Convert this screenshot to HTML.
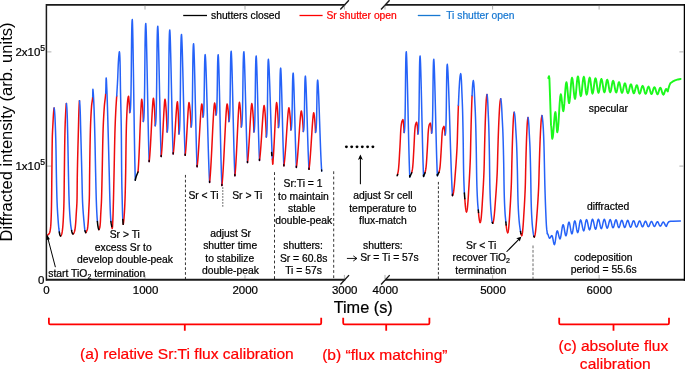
<!DOCTYPE html>
<html><head><meta charset="utf-8"><title>RHEED flux calibration</title>
<style>html,body{margin:0;padding:0;background:#fff;}svg{display:block;will-change:transform;}text{font-family:"Liberation Sans",sans-serif;}</style></head>
<body>
<svg width="685" height="370" viewBox="0 0 685 370">
<rect width="685" height="370" fill="#fff"/>
<g stroke="#1a1a1a" fill="none" stroke-linecap="butt">
<path d="M46.4 3.9999999999999996V280.65" stroke-width="1.5"/>
<path d="M46.4 279.75H345.2M385 279.75H685" stroke-width="1.9"/>
<path d="M46.4 4.85H345.2M385 4.85H685" stroke-width="1.7"/>
<path d="M684.4 3.9999999999999996V280.65" stroke-width="1.3" stroke="#000"/>
<path d="M340.3 9.5L348.9 0.2M381 9.5L389.6 0.2M340.4 284.5L349 275.1M381.1 284.5L389.7 275.1" stroke-width="1.4"/>
</g>
<g stroke="#777" stroke-width="0.6" fill="none">
<path d="M145.0 279.15v-4.2M145.0 5.35v4.2"/>
<path d="M245.0 279.15v-4.2M245.0 5.35v4.2"/>
<path d="M344.4 279.15v-4.2M344.4 5.35v4.2"/>
<path d="M385.0 279.15v-4.2M385.0 5.35v4.2"/>
<path d="M492.6 279.15v-4.2M492.6 5.35v4.2"/>
<path d="M599.1 279.15v-4.2M599.1 5.35v4.2"/>
<path d="M47.0 51.9h4.4M683.4 51.9h-4"/>
<path d="M47.0 166.1h4.4M683.4 166.1h-4"/>
</g>
<g stroke="#000" stroke-width="0.8" fill="none">
<path d="M185.45 174.9V279" stroke-dasharray="2.7 2.16"/>
<path d="M274.5 172.2V279M333.7 171.3V279" stroke-dasharray="2.8 2.4"/>
<path d="M438.4 181.9V279" stroke-dasharray="2.6 1.9"/>
<path d="M222.8 187.2V206.7" stroke="#333" stroke-dasharray="1.7 1.27"/>
<path d="M533.0 245.5V279" stroke="#6a6a6a" stroke-width="1.0" stroke-dasharray="2.8 1.66"/>
</g>
<path d="M47.60 235.00L48.14 234.68L48.60 234.30L49.25 233.46L49.70 232.50L50.12 230.72L50.43 228.84L50.65 226.91L50.80 225.00L50.91 223.19L51.00 221.38L51.09 219.56L51.16 217.74L51.23 215.93L51.29 214.10L51.34 212.28L51.39 210.46L51.43 208.64L51.47 206.82L51.50 205.00L51.53 203.06L51.56 201.11L51.59 199.17L51.62 197.22L51.64 195.28L51.67 193.33L51.69 191.39L51.71 189.45L51.73 187.50L51.75 185.56L51.76 183.61L51.78 181.67L51.80 179.72L51.82 177.78L51.84 175.83L51.86 173.89L51.88 171.94L51.90 170.00L51.92 168.12L51.94 166.24L51.96 164.35L51.98 162.47L52.00 160.59L52.02 158.70L52.04 156.82L52.05 154.94L52.07 153.06L52.09 151.17L52.12 149.29L52.14 147.41L52.17 145.53L52.20 143.65L52.23 141.76L52.26 139.88L52.30 138.00L52.35 136.07L52.42 134.15L52.50 132.22L52.59 130.30L52.69 128.37L52.79 126.45L52.90 124.52L53.00 122.60L53.10 120.68L53.20 118.76L53.30 116.84L53.41 114.93L53.55 113.01L53.70 111.10L53.88 109.10L54.10 107.90" stroke="#ee0c0c" stroke-width="1.5" fill="none" stroke-linejoin="round" stroke-linecap="round"/>
<path d="M54.10 107.90L54.37 109.29L54.60 111.60L54.74 113.51L54.87 115.42L54.97 117.33L55.07 119.25L55.15 121.17L55.23 123.08L55.30 125.00L55.37 126.82L55.43 128.64L55.50 130.45L55.56 132.27L55.61 134.09L55.67 135.91L55.72 137.73L55.77 139.54L55.82 141.36L55.86 143.18L55.90 145.00L55.94 146.87L55.98 148.75L56.01 150.62L56.04 152.50L56.07 154.37L56.10 156.25L56.13 158.12L56.16 160.00L56.19 161.87L56.21 163.75L56.24 165.63L56.27 167.50L56.30 169.38L56.33 171.25L56.36 173.13L56.40 175.00L56.44 176.92L56.48 178.85L56.51 180.77L56.55 182.69L56.59 184.62L56.63 186.54L56.68 188.46L56.72 190.39L56.77 192.31L56.82 194.23L56.88 196.16L56.94 198.08L57.00 200.00L57.07 201.92L57.15 203.85L57.23 205.77L57.33 207.70L57.43 209.62L57.54 211.55L57.65 213.47L57.78 215.40L57.91 217.32L58.05 219.24L58.19 221.16L58.34 223.08L58.50 225.00L58.66 226.73L58.84 228.46L59.06 230.18L59.30 231.90" stroke="#2562f8" stroke-width="1.5" fill="none" stroke-linejoin="round" stroke-linecap="round"/>
<path d="M60.60 236.00L61.04 235.64L61.40 235.00L61.96 233.16L62.30 231.20L62.51 229.48L62.70 227.74L62.85 226.00L62.99 224.25L63.10 222.50L63.21 220.75L63.30 219.00L63.40 217.10L63.49 215.20L63.57 213.30L63.65 211.40L63.73 209.50L63.80 207.60L63.86 205.70L63.91 203.80L63.96 201.90L64.00 200.00L64.03 198.15L64.06 196.31L64.09 194.46L64.11 192.62L64.14 190.77L64.16 188.92L64.18 187.08L64.20 185.23L64.21 183.39L64.23 181.54L64.25 179.69L64.28 177.85L64.30 176.00L64.33 174.08L64.35 172.17L64.37 170.25L64.40 168.33L64.42 166.42L64.45 164.50L64.47 162.58L64.49 160.67L64.52 158.75L64.54 156.83L64.57 154.91L64.59 153.00L64.62 151.08L64.65 149.16L64.67 147.25L64.70 145.33L64.73 143.41L64.77 141.50L64.80 139.58L64.84 137.66L64.87 135.75L64.91 133.83L64.96 131.92L65.00 130.00L65.05 128.06L65.11 126.12L65.17 124.18L65.24 122.24L65.32 120.30L65.40 118.36L65.49 116.42L65.59 114.48L65.69 112.54L65.80 110.60L65.92 108.49L66.07 106.16L66.23 104.28L66.40 103.50" stroke="#ee0c0c" stroke-width="1.5" fill="none" stroke-linejoin="round" stroke-linecap="round"/>
<path d="M66.40 103.50L66.58 104.44L66.76 106.52L66.90 108.60L67.00 110.54L67.09 112.48L67.17 114.43L67.24 116.37L67.30 118.32L67.36 120.27L67.41 122.21L67.46 124.16L67.50 126.11L67.55 128.05L67.60 130.00L67.65 131.92L67.69 133.83L67.74 135.75L67.78 137.67L67.82 139.58L67.86 141.50L67.89 143.42L67.93 145.33L67.97 147.25L68.00 149.17L68.03 151.08L68.07 153.00L68.10 154.92L68.13 156.83L68.17 158.75L68.20 160.67L68.24 162.58L68.27 164.50L68.31 166.42L68.34 168.33L68.38 170.25L68.42 172.17L68.46 174.08L68.50 176.00L68.54 177.85L68.58 179.69L68.62 181.54L68.66 183.39L68.70 185.23L68.74 187.08L68.78 188.93L68.83 190.77L68.87 192.62L68.92 194.46L68.98 196.31L69.04 198.16L69.10 200.00L69.17 201.85L69.24 203.70L69.32 205.55L69.41 207.40L69.51 209.25L69.61 211.10L69.72 212.94L69.84 214.79L69.97 216.64L70.11 218.48L70.27 220.32L70.43 222.16L70.60 224.00L70.78 225.61L71.02 227.21L71.29 228.81L71.60 230.40" stroke="#2562f8" stroke-width="1.5" fill="none" stroke-linejoin="round" stroke-linecap="round"/>
<path d="M73.10 234.00L73.60 233.56L74.00 232.80L74.55 231.44L74.90 230.00L75.16 228.15L75.38 226.29L75.56 224.41L75.71 222.51L75.85 220.61L75.96 218.70L76.07 216.80L76.18 214.90L76.30 213.00L76.42 211.14L76.54 209.29L76.66 207.43L76.77 205.57L76.87 203.72L76.95 201.86L77.00 200.00L77.04 198.16L77.07 196.31L77.10 194.46L77.12 192.62L77.14 190.77L77.16 188.93L77.18 187.08L77.19 185.23L77.21 183.39L77.23 181.54L77.25 179.69L77.27 177.85L77.30 176.00L77.33 174.08L77.37 172.17L77.40 170.25L77.44 168.33L77.48 166.42L77.52 164.50L77.56 162.58L77.60 160.67L77.65 158.75L77.70 156.83L77.74 154.92L77.79 153.00L77.84 151.08L77.89 149.17L77.94 147.25L77.99 145.33L78.04 143.42L78.09 141.50L78.15 139.58L78.20 137.67L78.25 135.75L78.30 133.83L78.35 131.92L78.40 130.00L78.45 128.05L78.50 126.11L78.54 124.16L78.59 122.22L78.64 120.27L78.68 118.32L78.74 116.38L78.79 114.43L78.86 112.49L78.92 110.54L79.00 108.60L79.10 106.25L79.22 103.66L79.36 101.56L79.50 100.70" stroke="#ee0c0c" stroke-width="1.5" fill="none" stroke-linejoin="round" stroke-linecap="round"/>
<path d="M79.50 100.70L79.67 101.79L79.86 104.20L80.00 106.60L80.09 108.55L80.17 110.49L80.24 112.44L80.30 114.39L80.36 116.34L80.41 118.29L80.46 120.25L80.51 122.20L80.55 124.15L80.60 126.10L80.65 128.05L80.70 130.00L80.75 131.92L80.81 133.83L80.86 135.75L80.91 137.67L80.96 139.58L81.01 141.50L81.07 143.42L81.12 145.33L81.17 147.25L81.22 149.17L81.27 151.08L81.31 153.00L81.36 154.92L81.41 156.83L81.46 158.75L81.51 160.67L81.56 162.58L81.61 164.50L81.66 166.42L81.71 168.33L81.75 170.25L81.80 172.17L81.85 174.08L81.90 176.00L81.95 177.85L81.99 179.69L82.03 181.54L82.07 183.39L82.11 185.23L82.15 187.08L82.19 188.93L82.23 190.77L82.27 192.62L82.32 194.47L82.38 196.31L82.44 198.16L82.50 200.00L82.57 201.85L82.66 203.70L82.76 205.54L82.87 207.39L82.99 209.24L83.12 211.09L83.25 212.93L83.40 214.78L83.55 216.63L83.70 218.47L83.86 220.32L84.03 222.16L84.20 224.00L84.35 225.72L84.51 227.44L84.71 229.15L85.00 230.80" stroke="#2562f8" stroke-width="1.5" fill="none" stroke-linejoin="round" stroke-linecap="round"/>
<path d="M85.80 232.60L86.21 232.12L86.60 231.30L87.14 230.02L87.50 228.70L87.74 226.88L87.93 225.04L88.10 223.18L88.24 221.31L88.35 219.43L88.45 217.54L88.54 215.65L88.63 213.76L88.71 211.88L88.80 210.00L88.89 208.13L88.99 206.25L89.08 204.38L89.16 202.50L89.24 200.63L89.31 198.75L89.36 196.88L89.40 195.00L89.43 193.10L89.45 191.20L89.48 189.30L89.49 187.40L89.51 185.50L89.53 183.60L89.54 181.70L89.56 179.80L89.58 177.90L89.60 176.00L89.62 174.08L89.65 172.17L89.67 170.25L89.70 168.33L89.72 166.42L89.75 164.50L89.77 162.58L89.80 160.66L89.83 158.75L89.86 156.83L89.89 154.91L89.92 153.00L89.95 151.08L89.98 149.16L90.02 147.25L90.05 145.33L90.09 143.41L90.13 141.50L90.17 139.58L90.21 137.66L90.25 135.75L90.30 133.83L90.35 131.92L90.40 130.00L90.45 128.12L90.51 126.24L90.58 124.36L90.65 122.48L90.72 120.61L90.81 118.73L90.90 116.85L91.00 114.97L91.10 113.09L91.21 111.22L91.33 109.34L91.46 107.47L91.60 105.60L91.79 103.84L92.05 102.08L92.32 100.32L92.56 98.56L92.70 96.80" stroke="#ee0c0c" stroke-width="1.5" fill="none" stroke-linejoin="round" stroke-linecap="round"/>
<path d="M92.70 96.80L92.76 94.55L92.80 92.05L92.84 90.03L92.90 89.20L93.02 90.01L93.19 91.97L93.36 94.40L93.50 96.60L93.60 98.56L93.70 100.52L93.79 102.49L93.88 104.45L93.96 106.42L94.04 108.38L94.11 110.34L94.18 112.31L94.24 114.28L94.31 116.24L94.37 118.21L94.43 120.17L94.48 122.14L94.54 124.10L94.59 126.07L94.65 128.03L94.70 130.00L94.75 131.92L94.80 133.83L94.85 135.75L94.90 137.67L94.94 139.58L94.98 141.50L95.03 143.42L95.07 145.33L95.11 147.25L95.15 149.17L95.18 151.08L95.22 153.00L95.26 154.92L95.30 156.83L95.34 158.75L95.37 160.67L95.41 162.58L95.45 164.50L95.49 166.42L95.53 168.33L95.57 170.25L95.61 172.17L95.66 174.08L95.70 176.00L95.74 177.85L95.78 179.69L95.82 181.54L95.87 183.39L95.91 185.23L95.95 187.08L95.99 188.92L96.04 190.77L96.08 192.62L96.13 194.46L96.18 196.31L96.24 198.15L96.30 200.00L96.37 201.96L96.44 203.91L96.51 205.87L96.59 207.83L96.68 209.78L96.77 211.74L96.88 213.70L96.99 215.65L97.11 217.60L97.25 219.55L97.40 221.50" stroke="#2562f8" stroke-width="1.5" fill="none" stroke-linejoin="round" stroke-linecap="round"/>
<path d="M98.90 229.60L99.47 228.63L99.90 227.00L100.10 225.30L100.26 223.58L100.38 221.83L100.47 220.07L100.55 218.30L100.63 216.53L100.71 214.76L100.80 213.00L100.91 211.14L101.02 209.29L101.13 207.43L101.24 205.57L101.34 203.72L101.43 201.86L101.50 200.00L101.56 198.15L101.62 196.31L101.67 194.46L101.72 192.62L101.77 190.77L101.81 188.93L101.86 187.08L101.90 185.23L101.94 183.39L101.98 181.54L102.02 179.69L102.06 177.85L102.10 176.00L102.14 174.08L102.19 172.17L102.23 170.25L102.26 168.33L102.30 166.42L102.34 164.50L102.37 162.58L102.41 160.66L102.44 158.75L102.48 156.83L102.51 154.91L102.55 153.00L102.59 151.08L102.62 149.16L102.66 147.25L102.70 145.33L102.74 143.41L102.79 141.50L102.83 139.58L102.88 137.66L102.93 135.75L102.98 133.83L103.04 131.92L103.10 130.00L103.16 128.12L103.23 126.24L103.31 124.37L103.39 122.49L103.48 120.61L103.58 118.73L103.68 116.85L103.78 114.98L103.90 113.10L104.01 111.22L104.14 109.35L104.27 107.47L104.40 105.60L104.56 103.83L104.75 102.06L104.97 100.29L105.20 98.52L105.40 96.75L105.58 94.97L105.70 93.20" stroke="#ee0c0c" stroke-width="1.5" fill="none" stroke-linejoin="round" stroke-linecap="round"/>
<path d="M105.70 93.20L105.79 91.08L105.86 88.66L105.92 86.12L105.97 83.64L106.02 81.40L106.07 79.58L106.13 78.35L106.20 77.90L106.29 78.44L106.39 79.88L106.50 81.91L106.61 84.24L106.71 86.57L106.80 88.60L106.88 90.57L106.96 92.54L107.04 94.51L107.11 96.48L107.18 98.45L107.25 100.42L107.31 102.40L107.37 104.37L107.43 106.34L107.49 108.31L107.55 110.28L107.61 112.25L107.66 114.23L107.72 116.20L107.77 118.17L107.83 120.14L107.88 122.11L107.93 124.08L107.99 126.06L108.04 128.03L108.10 130.00L108.15 131.92L108.21 133.83L108.26 135.75L108.31 137.67L108.37 139.58L108.42 141.50L108.47 143.42L108.52 145.33L108.57 147.25L108.62 149.17L108.67 151.08L108.72 153.00L108.77 154.92L108.82 156.83L108.86 158.75L108.91 160.67L108.96 162.58L109.01 164.50L109.06 166.42L109.11 168.33L109.15 170.25L109.20 172.17L109.25 174.08L109.30 176.00L109.35 177.85L109.39 179.69L109.43 181.54L109.47 183.39L109.52 185.23L109.56 187.08L109.60 188.92L109.64 190.77L109.69 192.62L109.74 194.46L109.79 196.31L109.84 198.15L109.90 200.00L109.96 201.96L110.02 203.92L110.09 205.87L110.15 207.83L110.23 209.79L110.31 211.75L110.40 213.71L110.50 215.66L110.61 217.61L110.75 219.56L110.90 221.50" stroke="#2562f8" stroke-width="1.5" fill="none" stroke-linejoin="round" stroke-linecap="round"/>
<path d="M111.80 226.60L112.02 227.85L112.20 228.60L112.41 227.77L112.57 225.75L112.70 223.26L112.80 221.00L112.89 219.13L112.96 217.25L113.03 215.38L113.09 213.50L113.14 211.63L113.20 209.75L113.25 207.88L113.30 206.00L113.35 204.13L113.40 202.25L113.45 200.38L113.50 198.50L113.54 196.63L113.59 194.75L113.63 192.88L113.67 191.00L113.71 189.13L113.75 187.25L113.79 185.38L113.83 183.50L113.88 181.63L113.92 179.75L113.96 177.88L114.00 176.00L114.04 174.08L114.08 172.17L114.12 170.25L114.16 168.33L114.20 166.42L114.24 164.50L114.27 162.58L114.31 160.67L114.35 158.75L114.38 156.83L114.42 154.91L114.46 153.00L114.50 151.08L114.53 149.16L114.57 147.25L114.61 145.33L114.66 143.41L114.70 141.50L114.74 139.58L114.79 137.66L114.84 135.75L114.89 133.83L114.94 131.92L115.00 130.00L115.06 128.05L115.13 126.11L115.20 124.16L115.27 122.22L115.35 120.27L115.43 118.32L115.52 116.38L115.61 114.43L115.70 112.49L115.80 110.54L115.90 108.60L116.00 106.80L116.11 105.00L116.23 103.20L116.35 101.40L116.47 99.60L116.59 97.80L116.70 96.00" stroke="#ee0c0c" stroke-width="1.5" fill="none" stroke-linejoin="round" stroke-linecap="round"/>
<path d="M116.70 96.00L116.82 94.08L116.94 92.15L117.05 90.23L117.17 88.30L117.28 86.38L117.39 84.45L117.50 82.53L117.60 80.60L117.69 78.77L117.77 76.93L117.84 75.10L117.91 73.26L117.98 71.43L118.05 69.59L118.12 67.76L118.19 65.92L118.28 64.09L118.37 62.26L118.48 60.43L118.60 58.60L118.76 56.58L118.98 54.35L119.20 52.54L119.40 51.80L119.60 52.87L119.78 55.24L119.90 57.60L119.96 59.54L120.02 61.48L120.07 63.41L120.12 65.35L120.16 67.30L120.19 69.24L120.22 71.18L120.25 73.12L120.28 75.06L120.30 77.00L120.33 78.95L120.35 80.89L120.38 82.83L120.40 84.77L120.43 86.72L120.46 88.66L120.50 90.60L120.54 92.57L120.58 94.54L120.62 96.51L120.66 98.48L120.71 100.45L120.75 102.42L120.80 104.39L120.84 106.36L120.89 108.33L120.93 110.30L120.98 112.27L121.02 114.24L121.06 116.21L121.10 118.18L121.14 120.15L121.18 122.12L121.21 124.09L121.25 126.06L121.27 128.03L121.30 130.00L121.32 131.92L121.34 133.83L121.36 135.75L121.38 137.67L121.40 139.58L121.41 141.50L121.43 143.42L121.44 145.33L121.46 147.25L121.47 149.17L121.48 151.08L121.50 153.00L121.51 154.92L121.52 156.83L121.54 158.75L121.55 160.67L121.57 162.58L121.58 164.50L121.60 166.42L121.62 168.33L121.63 170.25L121.65 172.17L121.68 174.08L121.70 176.00L121.73 177.85L121.75 179.69L121.79 181.54L121.82 183.39L121.86 185.23L121.89 187.08L121.93 188.92L121.98 190.77L122.02 192.62L122.06 194.46L122.11 196.31L122.15 198.15L122.20 200.00L122.25 201.95L122.29 203.90L122.34 205.85L122.39 207.80L122.44 209.75L122.50 211.71L122.56 213.66L122.63 215.60L122.71 217.55L122.80 219.50" stroke="#2562f8" stroke-width="1.5" fill="none" stroke-linejoin="round" stroke-linecap="round"/>
<path d="M123.20 224.30L123.39 223.61L123.61 221.94L123.83 219.87L124.00 218.00L124.14 216.21L124.27 214.41L124.39 212.61L124.50 210.81L124.61 209.01L124.70 207.21L124.78 205.41L124.86 203.60L124.93 201.80L125.00 200.00L125.06 198.15L125.12 196.31L125.18 194.46L125.23 192.62L125.28 190.77L125.32 188.93L125.37 187.08L125.41 185.23L125.45 183.39L125.49 181.54L125.53 179.69L125.56 177.85L125.60 176.00L125.64 174.08L125.67 172.17L125.70 170.25L125.73 168.33L125.76 166.42L125.78 164.50L125.81 162.58L125.83 160.67L125.86 158.75L125.88 156.83L125.90 154.92L125.93 153.00L125.95 151.08L125.98 149.16L126.00 147.25L126.03 145.33L126.05 143.41L126.08 141.50L126.11 139.58L126.14 137.66L126.18 135.75L126.22 133.83L126.26 131.92L126.30 130.00L126.35 128.12L126.40 126.24L126.45 124.37L126.51 122.49L126.58 120.61L126.65 118.73L126.73 116.85L126.81 114.98L126.89 113.10L126.99 111.22L127.09 109.35L127.19 107.47L127.30 105.60L127.42 103.67L127.56 101.73L127.75 99.80L128.00 97.90L128.25 96.83L128.50 96.20L128.72 97.01L128.87 98.81L129.00 100.60L129.14 102.34L129.27 104.08L129.39 105.82L129.50 107.56L129.59 109.31L129.66 111.05L129.70 112.80" stroke="#ee0c0c" stroke-width="1.5" fill="none" stroke-linejoin="round" stroke-linecap="round"/>
<path d="M129.90 112.20L130.21 111.31L130.48 108.49L130.70 104.00L130.88 98.12L131.02 91.13L131.14 83.31L131.25 74.92L131.33 66.25L131.41 57.56L131.49 49.14L131.58 41.26L131.68 34.20L131.79 28.22L131.93 23.62L132.10 20.65L132.30 19.60L132.48 22.74L132.67 29.07L132.87 38.13L133.07 49.44L133.28 62.50L133.50 76.84L133.72 91.98L133.95 107.44L134.17 122.74L134.40 137.40L134.63 150.93L134.86 162.87L135.08 172.71L135.30 180.00" stroke="#2562f8" stroke-width="1.5" fill="none" stroke-linejoin="round" stroke-linecap="round"/>
<path d="M138.00 172.00L138.30 168.42L138.60 163.74L138.89 158.17L139.17 151.93L139.46 145.22L139.73 138.27L140.00 131.29L140.27 124.48L140.52 118.06L140.78 112.25L141.02 107.25L141.25 103.29L141.48 100.57L141.70 99.30L141.92 100.06L142.16 101.85L142.40 104.45L142.64 107.62L142.86 111.12L143.05 114.75L143.20 118.25L143.30 121.40" stroke="#ee0c0c" stroke-width="1.5" fill="none" stroke-linejoin="round" stroke-linecap="round"/>
<path d="M143.30 121.40L143.63 120.46L143.90 117.47L144.13 112.73L144.32 106.52L144.47 99.13L144.60 90.85L144.70 81.99L144.79 72.82L144.88 63.64L144.96 54.73L145.05 46.40L145.15 38.93L145.27 32.62L145.41 27.75L145.59 24.61L145.80 23.50L146.00 26.20L146.22 31.66L146.44 39.46L146.67 49.19L146.91 60.43L147.16 72.78L147.41 85.82L147.67 99.13L147.92 112.30L148.18 124.92L148.44 136.57L148.70 146.85L148.95 155.33L149.20 161.60" stroke="#2562f8" stroke-width="1.5" fill="none" stroke-linejoin="round" stroke-linecap="round"/>
<path d="M149.20 161.60L149.54 158.48L149.88 154.39L150.21 149.54L150.53 144.10L150.85 138.25L151.17 132.19L151.47 126.10L151.77 120.16L152.07 114.56L152.35 109.49L152.63 105.14L152.89 101.68L153.15 99.30L153.40 98.20L153.65 99.14L153.92 101.38L154.19 104.61L154.46 108.55L154.70 112.91L154.92 117.42L155.09 121.78L155.20 125.70" stroke="#ee0c0c" stroke-width="1.5" fill="none" stroke-linejoin="round" stroke-linecap="round"/>
<path d="M155.20 125.70L155.54 124.75L155.83 121.71L156.06 116.89L156.26 110.57L156.42 103.06L156.55 94.65L156.66 85.64L156.75 76.32L156.84 66.99L156.93 57.94L157.02 49.48L157.12 41.89L157.25 35.47L157.40 30.52L157.58 27.33L157.80 26.20L158.00 28.75L158.22 33.90L158.44 41.26L158.67 50.44L158.91 61.05L159.16 72.70L159.41 85.00L159.67 97.56L159.92 109.99L160.18 121.89L160.44 132.89L160.70 142.58L160.95 150.58L161.20 156.50" stroke="#2562f8" stroke-width="1.5" fill="none" stroke-linejoin="round" stroke-linecap="round"/>
<path d="M161.20 156.50L161.51 153.68L161.81 149.99L162.11 145.60L162.41 140.68L162.69 135.40L162.98 129.92L163.26 124.41L163.53 119.05L163.79 113.99L164.05 109.41L164.30 105.47L164.54 102.34L164.78 100.20L165.00 99.20L165.29 100.33L165.60 102.99L165.92 106.84L166.23 111.54L166.52 116.75L166.77 122.12L166.97 127.32L167.10 132.00" stroke="#ee0c0c" stroke-width="1.5" fill="none" stroke-linejoin="round" stroke-linecap="round"/>
<path d="M167.10 132.00L167.45 131.02L167.75 127.91L168.00 122.97L168.20 116.49L168.36 108.79L168.50 100.17L168.61 90.94L168.71 81.38L168.80 71.82L168.89 62.54L168.99 53.86L169.10 46.08L169.23 39.50L169.38 34.42L169.57 31.16L169.80 30.00L170.00 32.42L170.22 37.32L170.44 44.32L170.67 53.05L170.91 63.14L171.16 74.21L171.41 85.91L171.67 97.85L171.92 109.67L172.18 120.99L172.44 131.45L172.70 140.66L172.95 148.27L173.20 153.90" stroke="#2562f8" stroke-width="1.5" fill="none" stroke-linejoin="round" stroke-linecap="round"/>
<path d="M173.20 153.90L173.54 151.33L173.88 147.97L174.21 143.97L174.53 139.49L174.85 134.68L175.17 129.68L175.47 124.67L175.77 119.78L176.07 115.17L176.35 111.00L176.63 107.41L176.89 104.56L177.15 102.61L177.40 101.70L177.61 102.81L177.83 105.42L178.06 109.20L178.28 113.82L178.48 118.93L178.66 124.20L178.81 129.31L178.90 133.90" stroke="#ee0c0c" stroke-width="1.5" fill="none" stroke-linejoin="round" stroke-linecap="round"/>
<path d="M178.90 133.90L179.24 132.95L179.53 129.91L179.76 125.09L179.96 118.77L180.12 111.26L180.25 102.85L180.36 93.84L180.45 84.52L180.54 75.19L180.63 66.14L180.72 57.68L180.82 50.09L180.95 43.67L181.10 38.72L181.28 35.53L181.50 34.40L181.72 36.76L181.95 41.54L182.20 48.37L182.45 56.89L182.71 66.73L182.98 77.54L183.25 88.96L183.53 100.61L183.81 112.14L184.09 123.19L184.37 133.39L184.65 142.39L184.93 149.81L185.20 155.30" stroke="#2562f8" stroke-width="1.5" fill="none" stroke-linejoin="round" stroke-linecap="round"/>
<path d="M185.20 155.30L185.51 152.70L185.81 149.31L186.11 145.27L186.41 140.75L186.69 135.89L186.98 130.85L187.26 125.79L187.53 120.85L187.79 116.20L188.05 111.99L188.30 108.37L188.54 105.49L188.78 103.52L189.00 102.60L189.29 103.44L189.60 105.42L189.92 108.28L190.23 111.78L190.52 115.66L190.77 119.65L190.97 123.52L191.10 127.00" stroke="#ee0c0c" stroke-width="1.5" fill="none" stroke-linejoin="round" stroke-linecap="round"/>
<path d="M191.10 127.00L191.43 126.20L191.70 123.66L191.93 119.62L192.12 114.34L192.27 108.05L192.40 101.01L192.50 93.46L192.59 85.66L192.68 77.85L192.76 70.28L192.85 63.19L192.95 56.83L193.07 51.46L193.21 47.31L193.39 44.64L193.60 43.70L193.81 46.10L194.03 50.97L194.26 57.91L194.50 66.58L194.75 76.59L195.00 87.59L195.26 99.20L195.52 111.06L195.79 122.79L196.05 134.03L196.32 144.41L196.58 153.56L196.84 161.11L197.10 166.70" stroke="#2562f8" stroke-width="1.5" fill="none" stroke-linejoin="round" stroke-linecap="round"/>
<path d="M197.10 166.70L197.48 163.61L197.86 159.56L198.23 154.75L198.59 149.36L198.95 143.57L199.30 137.57L199.64 131.53L199.98 125.65L200.31 120.11L200.63 115.09L200.93 110.77L201.23 107.35L201.52 104.99L201.80 103.90L201.97 104.35L202.14 105.41L202.33 106.95L202.50 108.83L202.67 110.91L202.81 113.06L202.92 115.13L203.00 117.00" stroke="#ee0c0c" stroke-width="1.5" fill="none" stroke-linejoin="round" stroke-linecap="round"/>
<path d="M203.00 117.00L203.29 116.40L203.53 114.50L203.73 111.47L203.89 107.51L204.03 102.80L204.14 97.53L204.23 91.88L204.31 86.03L204.39 80.18L204.46 74.51L204.54 69.20L204.63 64.44L204.73 60.41L204.86 57.31L205.01 55.31L205.20 54.60L205.46 57.10L205.74 62.15L206.03 69.37L206.33 78.37L206.64 88.78L206.96 100.21L207.28 112.27L207.61 124.59L207.95 136.78L208.28 148.46L208.62 159.24L208.95 168.75L209.28 176.60L209.60 182.40" stroke="#2562f8" stroke-width="1.5" fill="none" stroke-linejoin="round" stroke-linecap="round"/>
<path d="M209.60 182.40L210.00 178.49L210.40 173.39L210.80 167.31L211.19 160.51L211.57 153.19L211.94 145.61L212.31 137.99L212.66 130.57L213.01 123.57L213.35 117.23L213.68 111.78L214.00 107.45L214.30 104.48L214.60 103.10L214.79 103.51L215.00 104.47L215.21 105.87L215.42 107.58L215.61 109.47L215.78 111.42L215.91 113.30L216.00 115.00" stroke="#ee0c0c" stroke-width="1.5" fill="none" stroke-linejoin="round" stroke-linecap="round"/>
<path d="M216.00 115.00L216.29 114.42L216.53 112.59L216.73 109.67L216.89 105.85L217.03 101.30L217.14 96.22L217.23 90.76L217.31 85.13L217.39 79.48L217.46 74.01L217.54 68.88L217.63 64.29L217.73 60.41L217.86 57.41L218.01 55.48L218.20 54.80L218.42 57.36L218.65 62.52L218.90 69.90L219.15 79.11L219.41 89.75L219.68 101.44L219.95 113.78L220.23 126.38L220.51 138.84L220.79 150.79L221.07 161.82L221.35 171.54L221.63 179.56L221.90 185.50" stroke="#2562f8" stroke-width="1.5" fill="none" stroke-linejoin="round" stroke-linecap="round"/>
<path d="M221.90 185.50L222.32 181.48L222.74 176.23L223.15 169.98L223.55 162.97L223.95 155.45L224.33 147.65L224.71 139.80L225.09 132.16L225.45 124.96L225.80 118.44L226.14 112.83L226.47 108.38L226.79 105.32L227.10 103.90L227.35 104.51L227.62 105.94L227.89 108.02L228.16 110.56L228.40 113.37L228.62 116.27L228.79 119.08L228.90 121.60" stroke="#ee0c0c" stroke-width="1.5" fill="none" stroke-linejoin="round" stroke-linecap="round"/>
<path d="M228.90 121.60L229.20 120.93L229.45 118.78L229.66 115.37L229.84 110.91L229.98 105.61L230.09 99.67L230.19 93.30L230.27 86.71L230.35 80.12L230.43 73.73L230.51 67.75L230.60 62.38L230.71 57.85L230.84 54.35L231.00 52.10L231.20 51.30L231.42 53.73L231.65 58.65L231.90 65.67L232.15 74.44L232.41 84.57L232.68 95.69L232.95 107.44L233.23 119.43L233.51 131.29L233.79 142.66L234.07 153.16L234.35 162.41L234.63 170.05L234.90 175.70" stroke="#2562f8" stroke-width="1.5" fill="none" stroke-linejoin="round" stroke-linecap="round"/>
<path d="M234.90 175.70L235.26 172.08L235.62 167.36L235.98 161.74L236.33 155.43L236.67 148.67L237.01 141.65L237.34 134.60L237.66 127.72L237.97 121.24L238.28 115.38L238.57 110.33L238.86 106.33L239.13 103.58L239.40 102.30L239.66 103.15L239.95 105.15L240.23 108.05L240.51 111.59L240.77 115.52L241.00 119.56L241.18 123.48L241.30 127.00" stroke="#ee0c0c" stroke-width="1.5" fill="none" stroke-linejoin="round" stroke-linecap="round"/>
<path d="M241.30 127.00L241.64 126.28L241.93 123.98L242.16 120.34L242.36 115.57L242.52 109.89L242.65 103.54L242.76 96.73L242.85 89.68L242.94 82.63L243.03 75.79L243.12 69.39L243.22 63.66L243.35 58.80L243.50 55.06L243.68 52.65L243.90 51.80L244.11 53.96L244.34 58.34L244.58 64.59L244.82 72.39L245.08 81.41L245.34 91.30L245.61 101.75L245.88 112.42L246.15 122.98L246.42 133.10L246.69 142.44L246.97 150.67L247.24 157.47L247.50 162.50" stroke="#2562f8" stroke-width="1.5" fill="none" stroke-linejoin="round" stroke-linecap="round"/>
<path d="M247.50 162.50L247.85 159.60L248.19 155.81L248.53 151.30L248.86 146.24L249.19 140.81L249.51 135.18L249.83 129.52L250.13 124.00L250.43 118.80L250.73 114.09L251.01 110.04L251.28 106.83L251.55 104.63L251.80 103.60L252.09 104.58L252.40 106.88L252.72 110.21L253.03 114.29L253.32 118.80L253.57 123.45L253.77 127.95L253.90 132.00" stroke="#ee0c0c" stroke-width="1.5" fill="none" stroke-linejoin="round" stroke-linecap="round"/>
<path d="M253.90 132.00L254.20 131.27L254.45 128.96L254.66 125.28L254.84 120.46L254.98 114.73L255.09 108.32L255.19 101.44L255.27 94.33L255.35 87.22L255.43 80.32L255.51 73.86L255.60 68.07L255.71 63.17L255.84 59.39L256.00 56.96L256.20 56.10L256.40 58.14L256.60 62.26L256.82 68.15L257.05 75.50L257.28 83.99L257.52 93.32L257.76 103.17L258.01 113.22L258.26 123.17L258.51 132.70L258.76 141.50L259.01 149.26L259.26 155.66L259.50 160.40" stroke="#2562f8" stroke-width="1.5" fill="none" stroke-linejoin="round" stroke-linecap="round"/>
<path d="M259.50 160.40L259.87 157.70L260.24 154.16L260.60 149.96L260.96 145.24L261.31 140.18L261.65 134.93L261.99 129.66L262.32 124.51L262.64 119.67L262.95 115.28L263.25 111.51L263.55 108.51L263.83 106.46L264.10 105.50L264.40 106.58L264.73 109.14L265.06 112.84L265.39 117.35L265.69 122.35L265.95 127.52L266.16 132.51L266.30 137.00" stroke="#ee0c0c" stroke-width="1.5" fill="none" stroke-linejoin="round" stroke-linecap="round"/>
<path d="M266.30 137.00L266.58 136.26L266.81 133.88L267.00 130.12L267.15 125.19L267.28 119.32L267.39 112.76L267.48 105.72L267.55 98.44L267.63 91.15L267.69 84.09L267.77 77.48L267.85 71.55L267.95 66.54L268.07 62.67L268.22 60.18L268.40 59.30L268.66 61.35L268.93 65.48L269.21 71.40L269.50 78.77L269.81 87.30L270.12 96.66L270.44 106.55L270.76 116.64L271.08 126.62L271.41 136.19L271.74 145.03L272.06 152.82L272.38 159.24" stroke="#2562f8" stroke-width="1.5" fill="none" stroke-linejoin="round" stroke-linecap="round"/>
<path d="M272.38 159.24L272.70 164.00" stroke="#ee0c0c" stroke-width="1.5" fill="none" stroke-linejoin="round" stroke-linecap="round"/>
<path d="M272.70 164.00L273.02 160.98L273.33 157.02L273.63 152.32L273.94 147.05L274.23 141.39L274.53 135.52L274.81 129.62L275.09 123.87L275.36 118.45L275.63 113.54L275.88 109.32L276.13 105.97L276.37 103.67L276.60 102.60L276.85 103.46L277.12 105.48L277.39 108.40L277.66 111.97L277.90 115.92L278.12 120.00L278.29 123.95L278.40 127.50" stroke="#ee0c0c" stroke-width="1.5" fill="none" stroke-linejoin="round" stroke-linecap="round"/>
<path d="M278.40 127.50L278.70 126.93L278.95 125.12L279.16 122.24L279.34 118.47L279.48 113.99L279.59 108.97L279.69 103.59L279.77 98.02L279.85 92.45L279.93 87.05L280.01 82.00L280.10 77.46L280.21 73.63L280.34 70.68L280.50 68.77L280.70 68.10L280.89 70.01L281.09 73.87L281.30 79.39L281.52 86.27L281.75 94.23L281.98 102.96L282.22 112.19L282.46 121.60L282.70 130.92L282.94 139.85L283.18 148.10L283.43 155.36L283.66 161.36L283.90 165.80" stroke="#2562f8" stroke-width="1.5" fill="none" stroke-linejoin="round" stroke-linecap="round"/>
<path d="M283.90 165.80L284.30 162.94L284.70 159.21L285.10 154.77L285.49 149.79L285.87 144.44L286.24 138.89L286.61 133.32L286.96 127.89L287.31 122.77L287.65 118.13L287.98 114.15L288.30 110.98L288.60 108.81L288.90 107.80L289.18 108.56L289.47 110.36L289.78 112.97L290.07 116.15L290.35 119.68L290.58 123.32L290.77 126.83L290.90 130.00" stroke="#ee0c0c" stroke-width="1.5" fill="none" stroke-linejoin="round" stroke-linecap="round"/>
<path d="M290.90 130.00L291.20 129.45L291.45 127.72L291.66 124.96L291.84 121.35L291.98 117.06L292.09 112.25L292.19 107.09L292.27 101.76L292.35 96.43L292.43 91.25L292.51 86.41L292.60 82.07L292.71 78.40L292.84 75.57L293.00 73.75L293.20 73.10L293.39 74.94L293.59 78.67L293.80 84.00L294.02 90.64L294.25 98.32L294.48 106.75L294.72 115.65L294.96 124.74L295.20 133.74L295.44 142.35L295.68 150.31L295.93 157.33L296.16 163.12L296.40 167.40" stroke="#2562f8" stroke-width="1.5" fill="none" stroke-linejoin="round" stroke-linecap="round"/>
<path d="M296.40 167.40L296.80 164.62L297.19 160.98L297.57 156.65L297.95 151.80L298.33 146.59L298.69 141.19L299.05 135.76L299.40 130.47L299.74 125.48L300.08 120.96L300.40 117.08L300.71 114.00L301.01 111.88L301.30 110.90L301.58 111.61L301.87 113.28L302.18 115.70L302.47 118.65L302.75 121.92L302.98 125.30L303.17 128.56L303.30 131.50" stroke="#ee0c0c" stroke-width="1.5" fill="none" stroke-linejoin="round" stroke-linecap="round"/>
<path d="M303.30 131.50L303.58 130.97L303.81 129.28L304.00 126.59L304.15 123.08L304.28 118.90L304.39 114.21L304.48 109.20L304.55 104.01L304.63 98.81L304.69 93.77L304.77 89.06L304.85 84.83L304.95 81.26L305.07 78.50L305.22 76.73L305.40 76.10L305.61 77.92L305.84 81.61L306.08 86.87L306.32 93.44L306.58 101.03L306.84 109.36L307.11 118.16L307.38 127.14L307.65 136.03L307.92 144.55L308.19 152.41L308.47 159.34L308.74 165.07L309.00 169.30" stroke="#2562f8" stroke-width="1.5" fill="none" stroke-linejoin="round" stroke-linecap="round"/>
<path d="M309.00 169.30L309.38 166.52L309.76 162.88L310.13 158.55L310.49 153.70L310.85 148.49L311.20 143.09L311.54 137.66L311.88 132.37L312.21 127.38L312.53 122.86L312.83 118.98L313.13 115.90L313.42 113.78L313.70 112.80L313.95 113.47L314.22 115.06L314.49 117.37L314.76 120.17L315.00 123.29L315.22 126.50L315.39 129.60L315.50 132.40" stroke="#ee0c0c" stroke-width="1.5" fill="none" stroke-linejoin="round" stroke-linecap="round"/>
<path d="M315.50 132.40L315.79 131.90L316.03 130.30L316.23 127.77L316.39 124.45L316.53 120.50L316.64 116.08L316.73 111.34L316.81 106.45L316.89 101.54L316.96 96.79L317.04 92.34L317.13 88.35L317.23 84.97L317.36 82.37L317.51 80.69L317.70 80.10L317.94 81.88L318.19 85.47L318.45 90.60L318.73 97.01L319.01 104.41L319.30 112.54L319.59 121.12L319.89 129.88L320.20 138.55L320.50 146.86L320.80 154.53L321.11 161.29L321.41 166.87L321.70 171.00" stroke="#2562f8" stroke-width="1.5" fill="none" stroke-linejoin="round" stroke-linecap="round"/>
<path d="M397.40 175.10L397.78 173.44L398.13 171.78L398.39 170.10L398.59 168.21L398.76 166.30L398.91 164.40L399.05 162.48L399.17 160.57L399.28 158.65L399.38 156.73L399.49 154.81L399.60 152.90L399.70 151.16L399.80 149.41L399.90 147.67L399.99 145.92L400.08 144.18L400.17 142.43L400.26 140.69L400.36 138.75L400.44 136.80L400.53 134.86L400.62 132.91L400.73 130.97L400.86 129.03L401.01 127.21L401.20 125.37L401.46 123.56L401.80 121.82L402.26 120.69L402.90 119.60L403.07 120.04L403.24 121.09L403.43 122.60L403.60 124.45L403.77 126.50L403.91 128.62L404.02 130.66L404.10 132.50" stroke="#ee0c0c" stroke-width="1.5" fill="none" stroke-linejoin="round" stroke-linecap="round"/>
<path d="M404.10 132.50L404.39 131.73L404.63 129.26L404.83 125.35L404.99 120.23L405.13 114.14L405.24 107.32L405.33 100.01L405.41 92.45L405.49 84.88L405.56 77.55L405.64 70.68L405.73 64.52L405.83 59.32L405.96 55.30L406.11 52.72L406.30 51.80L406.51 54.25L406.73 59.20L406.96 66.27L407.20 75.09L407.45 85.28L407.70 96.48L407.96 108.30L408.22 120.36L408.49 132.31L408.75 143.75L409.02 154.31L409.28 163.63L409.54 171.31L409.80 177.00" stroke="#2562f8" stroke-width="1.5" fill="none" stroke-linejoin="round" stroke-linecap="round"/>
<path d="M411.70 172.70L412.04 171.19L412.35 169.68L412.58 168.16L412.78 166.21L412.95 164.26L413.10 162.31L413.22 160.35L413.33 158.38L413.44 156.42L413.55 154.46L413.66 152.50L413.77 150.65L413.87 148.80L413.96 146.95L414.06 145.09L414.15 143.24L414.25 141.39L414.33 139.62L414.41 137.85L414.49 136.08L414.57 134.31L414.67 132.55L414.79 130.78L414.92 129.12L415.09 127.45L415.31 125.81L415.62 124.22L416.03 123.19L416.60 122.20L416.78 122.61L416.97 123.56L417.17 124.95L417.36 126.64L417.54 128.51L417.70 130.45L417.82 132.32L417.90 134.00" stroke="#ee0c0c" stroke-width="1.5" fill="none" stroke-linejoin="round" stroke-linecap="round"/>
<path d="M417.90 134.00L418.19 133.25L418.43 130.88L418.63 127.10L418.79 122.16L418.93 116.28L419.04 109.69L419.13 102.64L419.21 95.34L419.29 88.04L419.36 80.95L419.44 74.32L419.53 68.38L419.63 63.36L419.76 59.48L419.91 56.98L420.10 56.10L420.31 58.45L420.53 63.21L420.76 70.01L421.00 78.50L421.25 88.30L421.50 99.06L421.76 110.43L422.02 122.04L422.29 133.52L422.55 144.52L422.82 154.68L423.08 163.64L423.34 171.03L423.60 176.50" stroke="#2562f8" stroke-width="1.5" fill="none" stroke-linejoin="round" stroke-linecap="round"/>
<path d="M425.00 172.70L425.36 171.22L425.69 169.73L425.94 168.24L426.15 166.33L426.33 164.42L426.48 162.50L426.61 160.57L426.73 158.64L426.85 156.71L426.96 154.79L427.08 152.86L427.19 151.04L427.30 149.22L427.40 147.40L427.50 145.59L427.60 143.77L427.70 141.95L427.79 140.21L427.88 138.47L427.96 136.73L428.05 135.00L428.15 133.26L428.28 131.53L428.42 129.90L428.60 128.25L428.84 126.64L429.16 125.08L429.59 124.07L430.20 123.10L430.39 123.44L430.60 124.25L430.81 125.43L431.02 126.86L431.21 128.45L431.38 130.09L431.51 131.67L431.60 133.10" stroke="#ee0c0c" stroke-width="1.5" fill="none" stroke-linejoin="round" stroke-linecap="round"/>
<path d="M431.60 133.10L431.89 132.39L432.13 130.14L432.33 126.56L432.49 121.88L432.63 116.31L432.74 110.07L432.83 103.39L432.91 96.48L432.99 89.56L433.06 82.85L433.14 76.57L433.23 70.94L433.33 66.17L433.46 62.50L433.61 60.14L433.80 59.30L434.01 61.58L434.24 66.18L434.48 72.75L434.72 80.95L434.98 90.43L435.24 100.84L435.51 111.83L435.78 123.05L436.05 134.15L436.32 144.78L436.59 154.61L436.87 163.27L437.14 170.41L437.40 175.70" stroke="#2562f8" stroke-width="1.5" fill="none" stroke-linejoin="round" stroke-linecap="round"/>
<path d="M439.00 172.20L439.34 170.83L439.65 169.46L439.88 168.08L440.08 166.32L440.25 164.55L440.39 162.78L440.52 161.00L440.63 159.22L440.74 157.44L440.85 155.66L440.96 153.88L441.07 152.20L441.17 150.52L441.26 148.84L441.36 147.16L441.45 145.48L441.55 143.80L441.65 141.88L441.74 139.95L441.84 138.03L441.95 136.10L442.09 134.19L442.22 132.68L442.39 131.16L442.61 129.66L442.92 128.23L443.33 127.30L443.90 126.40L444.07 126.70L444.24 127.39L444.43 128.40L444.60 129.64L444.77 131.00L444.91 132.41L445.02 133.77L445.10 135.00" stroke="#ee0c0c" stroke-width="1.5" fill="none" stroke-linejoin="round" stroke-linecap="round"/>
<path d="M445.10 135.00L445.39 134.32L445.63 132.17L445.83 128.74L445.99 124.25L446.13 118.92L446.24 112.94L446.33 106.54L446.41 99.92L446.49 93.28L446.56 86.86L446.64 80.84L446.73 75.45L446.83 70.89L446.96 67.37L447.11 65.10L447.30 64.30L447.61 66.87L447.94 72.06L448.28 79.47L448.64 88.72L449.00 99.41L449.38 111.15L449.76 123.55L450.15 136.20L450.55 148.73L450.94 160.73L451.34 171.81L451.73 181.57L452.12 189.64L452.50 195.60" stroke="#2562f8" stroke-width="1.5" fill="none" stroke-linejoin="round" stroke-linecap="round"/>
<path d="M452.50 195.60L452.82 195.00L453.07 194.38L453.43 192.79L453.69 191.15L453.89 189.50L454.12 187.53L454.32 185.55L454.51 183.57L454.67 181.58L454.83 179.60L454.98 177.61L455.13 175.62L455.29 173.64L455.44 171.66L455.60 169.68L455.75 167.69L455.90 165.71L456.04 163.73L456.18 161.75L456.31 159.76L456.44 157.78L456.56 155.86L456.67 153.95L456.79 152.03L456.90 150.11L457.00 148.20L457.09 146.28L457.17 144.36L457.25 142.41L457.31 140.46L457.37 138.51L457.43 136.55L457.48 134.60L457.53 132.65L457.58 130.70L457.63 128.74L457.69 126.79L457.75 124.84L457.81 122.89L457.87 120.94L457.93 118.98L457.99 117.03L458.06 115.08L458.12 113.13L458.19 111.18L458.26 109.22L458.33 107.27L458.40 105.32" stroke="#ee0c0c" stroke-width="1.5" fill="none" stroke-linejoin="round" stroke-linecap="round"/>
<path d="M458.40 105.32L458.48 103.35L458.56 101.39L458.64 99.42L458.73 97.46L458.82 95.49L458.91 93.52L459.01 91.56L459.11 89.59L459.22 87.63L459.33 85.80L459.43 83.96L459.55 82.12L459.68 80.29L459.84 78.46L460.04 76.65L460.36 74.74L460.70 73.60L460.91 74.37L461.09 76.06L461.22 77.75L461.35 79.64L461.46 81.54L461.55 83.44L461.63 85.35L461.70 87.25L461.77 89.16L461.84 91.06L461.92 92.96L462.00 94.81L462.07 96.65L462.15 98.49L462.23 100.34L462.30 102.18L462.37 104.03L462.44 105.87L462.50 107.71L462.56 109.56L462.61 111.53L462.66 113.51L462.71 115.48L462.76 117.46L462.80 119.44L462.84 121.41L462.88 123.39L462.92 125.36L462.96 127.34L463.00 129.31L463.03 131.29L463.07 133.27L463.10 135.24L463.14 137.22L463.17 139.22L463.20 141.21L463.23 143.21L463.26 145.21L463.28 147.21L463.31 149.20L463.33 151.20L463.35 153.20L463.38 155.20L463.40 157.20L463.43 159.19L463.45 161.19L463.48 163.19L463.51 165.19L463.54 167.18L463.58 169.18L463.62 171.18L463.66 173.18L463.70 175.17L463.76 177.16L463.81 179.16L463.88 181.15L463.95 183.14L464.03 185.13L464.11 187.13L464.20 189.12L464.29 191.11L464.40 193.10" stroke="#2562f8" stroke-width="1.5" fill="none" stroke-linejoin="round" stroke-linecap="round"/>
<path d="M464.82 198.70L464.94 200.45L465.06 202.19L465.18 203.94L465.34 205.68L465.52 207.45L465.76 209.21L466.09 210.93L466.28 211.54L466.50 211.90" stroke="#ee0c0c" stroke-width="1.5" fill="none" stroke-linejoin="round" stroke-linecap="round"/>
<path d="M466.50 211.90L466.77 211.41L466.98 210.59L467.28 208.86L467.49 207.10L467.66 205.34L467.82 203.44L467.98 201.55L468.12 199.65L468.24 197.76L468.36 195.86L468.48 193.96L468.59 192.06L468.70 190.16L468.81 188.27L468.93 186.37L469.04 184.47L469.15 182.58L469.26 180.68L469.37 178.78L469.47 176.89L469.57 174.99L469.67 173.09L469.76 171.20L469.85 169.39L469.94 167.59L470.02 165.78L470.10 163.98L470.18 162.17L470.25 160.37L470.32 158.56L470.38 156.75L470.43 154.84L470.48 152.94L470.53 151.03L470.57 149.12L470.61 147.21L470.65 145.30L470.69 143.39L470.73 141.48L470.77 139.57L470.81 137.66L470.85 135.75L470.90 133.84L470.94 131.93L470.99 130.02L471.04 128.11L471.08 126.20L471.13 124.29L471.18 122.38L471.23 120.47L471.29 118.56L471.34 116.65L471.40 114.74L471.45 112.83L471.51 110.93L471.57 109.03L471.64 107.12L471.70 105.22L471.77 103.31L471.84 101.41L471.91 99.51L471.99 97.60L472.08 95.70" stroke="#ee0c0c" stroke-width="1.5" fill="none" stroke-linejoin="round" stroke-linecap="round"/>
<path d="M472.08 95.70L472.16 93.73L472.25 91.75L472.34 89.78L472.46 87.81L472.59 85.84L472.76 83.88L473.00 81.83L473.30 80.60L473.53 81.39L473.75 83.12L473.92 84.86L474.07 86.80L474.20 88.75L474.31 90.70L474.41 92.65L474.49 94.60L474.58 96.56L474.66 98.51L474.75 100.47L474.84 102.36L474.93 104.25L475.03 106.14L475.12 108.03L475.21 109.92L475.29 111.82L475.37 113.71L475.44 115.60L475.51 117.49L475.57 119.39L475.62 121.28L475.68 123.17L475.73 125.06L475.78 126.95L475.83 128.84L475.87 130.74L475.92 132.63L475.96 134.52L476.00 136.41L476.04 138.31L476.08 140.20L476.12 142.09L476.16 143.98L476.20 145.87L476.24 147.82L476.27 149.76L476.30 151.70L476.33 153.64L476.36 155.58L476.39 157.53L476.42 159.47L476.45 161.41L476.47 163.35L476.50 165.29L476.53 167.24L476.56 169.18L476.59 171.12L476.62 173.06L476.65 175.00L476.69 176.94L476.73 178.89L476.77 180.83L476.82 182.77L476.87 184.76L476.93 186.74L477.00 188.73L477.07 190.72L477.15 192.71L477.23 194.69L477.33 196.68L477.43 198.67L477.53 200.65L477.65 202.63L477.78 204.48L477.94 206.32L478.12 208.16L478.29 210.00" stroke="#2562f8" stroke-width="1.5" fill="none" stroke-linejoin="round" stroke-linecap="round"/>
<path d="M478.51 212.50L478.65 214.31L478.82 216.11L479.04 217.94L479.31 219.76L479.72 221.51L479.94 222.13L480.20 222.50" stroke="#ee0c0c" stroke-width="1.5" fill="none" stroke-linejoin="round" stroke-linecap="round"/>
<path d="M480.20 222.50L480.47 222.02L480.68 221.22L480.98 219.54L481.19 217.82L481.36 216.10L481.52 214.26L481.68 212.41L481.82 210.56L481.94 208.71L482.06 206.86L482.18 205.01L482.29 203.16L482.40 201.31L482.51 199.46L482.63 197.61L482.74 195.76L482.85 193.91L482.96 192.07L483.07 190.22L483.17 188.37L483.27 186.52L483.37 184.67L483.46 182.82L483.55 181.06L483.64 179.30L483.72 177.54L483.80 175.78L483.88 174.02L483.95 172.26L484.02 170.50L484.08 168.74L484.13 166.88L484.18 165.02L484.23 163.16L484.27 161.29L484.31 159.43L484.35 157.57L484.39 155.71L484.43 153.85L484.47 151.98L484.51 150.12L484.55 148.26L484.60 146.40L484.64 144.54L484.69 142.67L484.74 140.81L484.78 138.95L484.83 137.09L484.88 135.23L484.93 133.36L484.99 131.50L485.04 129.64L485.10 127.78L485.15 125.92L485.21 124.07L485.27 122.21L485.34 120.35L485.40 118.50L485.47 116.64L485.54 114.79L485.61 112.93L485.69 111.08L485.78 109.22L485.86 107.30L485.95 105.37L486.04 103.45L486.16 101.53L486.29 99.61L486.46 97.70L486.71 95.70L487.00 94.50" stroke="#ee0c0c" stroke-width="1.5" fill="none" stroke-linejoin="round" stroke-linecap="round"/>
<path d="M487.00 94.50L487.29 95.95L487.51 98.36L487.64 100.13L487.74 101.90L487.84 103.67L487.91 105.44L487.99 107.21L488.05 108.99L488.12 110.76L488.20 112.53L488.28 114.46L488.37 116.40L488.46 118.33L488.54 120.26L488.62 122.19L488.69 124.12L488.76 126.06L488.82 127.99L488.88 129.97L488.93 131.95L488.99 133.93L489.03 135.91L489.08 137.89L489.12 139.88L489.17 141.86L489.21 143.84L489.25 145.82L489.28 147.80L489.32 149.78L489.36 151.77L489.39 153.75L489.43 155.72L489.46 157.69L489.49 159.66L489.52 161.63L489.54 163.60L489.57 165.57L489.59 167.54L489.62 169.51L489.64 171.48L489.67 173.45L489.70 175.42L489.73 177.39L489.76 179.36L489.79 181.33L489.82 183.30L489.86 185.27L489.91 187.24L489.95 189.04L490.00 190.84L490.06 192.65L490.12 194.45L490.18 196.26L490.25 198.06L490.33 199.86L490.41 201.66L490.50 203.47L490.59 205.27L490.69 207.02L490.80 208.77L490.92 210.52L491.06 212.27L491.21 214.02L491.38 215.76L491.56 217.50L491.74 219.16L491.97 220.80L492.30 222.40" stroke="#2562f8" stroke-width="1.5" fill="none" stroke-linejoin="round" stroke-linecap="round"/>
<path d="M492.70 223.30L493.01 222.84L493.26 222.06L493.61 220.43L493.86 218.76L494.06 217.08L494.26 215.28L494.44 213.49L494.60 211.69L494.75 209.89L494.89 208.09L495.02 206.29L495.16 204.49L495.29 202.69L495.42 200.89L495.56 199.09L495.69 197.29L495.82 195.50L495.95 193.70L496.08 191.90L496.20 190.10L496.32 188.30L496.43 186.50L496.54 184.71L496.66 182.75L496.77 180.79L496.88 178.84L496.99 176.88L497.09 174.92L497.18 172.97L497.26 171.01L497.33 169.02L497.39 167.03L497.45 165.04L497.51 163.04L497.56 161.05L497.61 159.06L497.66 157.07L497.71 155.07L497.76 153.08L497.82 151.09L497.88 149.10L497.94 147.11L498.00 145.11L498.06 143.12L498.12 141.13L498.18 139.14L498.25 137.15L498.32 135.15L498.39 133.16L498.46 131.17L498.53 129.36L498.60 127.56L498.67 125.75L498.74 123.95L498.82 122.14L498.90 120.34L498.98 118.53L499.07 116.73L499.16 114.92L499.26 113.12L499.36 111.25L499.46 109.37L499.58 107.50L499.71 105.63L499.87 103.77L500.06 101.91L500.36 99.96L500.70 98.80" stroke="#ee0c0c" stroke-width="1.5" fill="none" stroke-linejoin="round" stroke-linecap="round"/>
<path d="M500.70 98.80L500.94 99.54L501.16 101.18L501.33 102.82L501.48 104.65L501.61 106.49L501.73 108.33L501.82 110.17L501.91 112.01L501.99 113.86L502.08 115.70L502.17 117.55L502.26 119.33L502.36 121.12L502.45 122.90L502.54 124.69L502.63 126.47L502.72 128.26L502.80 130.04L502.87 131.83L502.94 133.61L503.00 135.53L503.07 137.44L503.12 139.35L503.18 141.26L503.23 143.18L503.28 145.09L503.33 147.00L503.38 148.92L503.43 150.83L503.47 152.74L503.51 154.65L503.56 156.57L503.60 158.48L503.64 160.39L503.68 162.33L503.72 164.26L503.75 166.20L503.78 168.13L503.82 170.06L503.85 172.00L503.87 173.93L503.90 175.87L503.93 177.80L503.96 179.74L503.99 181.67L504.02 183.61L504.06 185.54L504.09 187.47L504.13 189.41L504.17 191.34L504.22 193.27L504.27 195.21L504.32 197.08L504.38 198.96L504.45 200.84L504.52 202.71L504.60 204.59L504.69 206.46L504.79 208.34L504.89 210.21L504.99 212.08L505.11 213.95L505.23 215.56L505.38 217.17L505.54 218.78L505.70 220.39L505.86 222.00" stroke="#2562f8" stroke-width="1.5" fill="none" stroke-linejoin="round" stroke-linecap="round"/>
<path d="M506.14 225.00L506.33 226.72L506.55 228.44L506.82 230.14L507.21 231.76L507.44 232.35L507.70 232.70" stroke="#ee0c0c" stroke-width="1.5" fill="none" stroke-linejoin="round" stroke-linecap="round"/>
<path d="M507.70 232.70L507.96 232.25L508.15 231.49L508.44 229.91L508.64 228.30L508.81 226.67L508.99 224.72L509.15 222.77L509.29 220.81L509.42 218.85L509.55 216.89L509.67 214.93L509.79 212.97L509.91 211.01L510.03 209.05L510.16 207.09L510.28 205.14L510.39 203.18L510.51 201.22L510.61 199.26L510.72 197.30L510.82 195.34L510.91 193.45L511.01 191.56L511.10 189.67L511.19 187.77L511.27 185.88L511.34 183.98L511.41 182.09L511.46 180.16L511.51 178.23L511.56 176.31L511.61 174.38L511.65 172.45L511.69 170.52L511.73 168.59L511.77 166.67L511.81 164.74L511.86 162.81L511.91 160.88L511.96 158.95L512.01 157.03L512.05 155.10L512.11 153.17L512.16 151.24L512.21 149.31L512.26 147.39L512.32 145.46L512.38 143.53L512.44 141.59L512.50 139.65L512.57 137.70L512.64 135.76L512.71 133.82L512.78 131.88L512.86 129.94L512.94 128.00L513.03 126.06L513.11 124.25L513.20 122.44L513.29 120.62L513.39 118.81L513.52 117.01L513.68 115.21L513.91 113.33L514.20 112.20" stroke="#ee0c0c" stroke-width="1.5" fill="none" stroke-linejoin="round" stroke-linecap="round"/>
<path d="M514.20 112.20L514.57 113.59L514.88 115.90L515.06 117.83L515.22 119.76L515.34 121.70L515.46 123.65L515.56 125.59L515.66 127.53L515.78 129.48L515.89 131.33L516.00 133.18L516.11 135.03L516.23 136.88L516.33 138.73L516.43 140.58L516.52 142.43L516.60 144.28L516.67 146.18L516.74 148.08L516.81 149.98L516.88 151.88L516.94 153.77L516.99 155.67L517.05 157.57L517.10 159.47L517.15 161.37L517.20 163.27L517.25 165.17L517.30 167.07L517.35 168.96L517.40 170.85L517.44 172.74L517.48 174.63L517.51 176.51L517.55 178.40L517.58 180.29L517.61 182.18L517.65 184.06L517.68 185.95L517.71 187.84L517.75 189.73L517.79 191.61L517.83 193.50L517.87 195.39L517.92 197.28L517.97 199.16L518.03 201.05L518.09 202.97L518.16 204.89L518.24 206.81L518.33 208.73L518.43 210.65L518.54 212.57L518.66 214.49L518.79 216.41L518.93 218.32L519.08 220.21L519.26 222.10L519.46 223.99L519.69 225.87L519.94 227.75L520.21 229.63L520.50 231.50" stroke="#2562f8" stroke-width="1.5" fill="none" stroke-linejoin="round" stroke-linecap="round"/>
<path d="M520.98 233.80L521.32 234.93L521.70 235.60" stroke="#ee0c0c" stroke-width="1.5" fill="none" stroke-linejoin="round" stroke-linecap="round"/>
<path d="M521.70 235.60L521.94 235.16L522.14 234.42L522.42 232.87L522.61 231.29L522.77 229.70L522.95 227.79L523.10 225.87L523.24 223.96L523.37 222.04L523.49 220.12L523.61 218.20L523.72 216.28L523.84 214.36L523.96 212.44L524.08 210.53L524.20 208.61L524.31 206.69L524.42 204.77L524.52 202.86L524.63 200.94L524.72 199.02L524.82 197.17L524.91 195.31L524.99 193.46L525.08 191.60L525.16 189.75L525.23 187.89L525.29 186.04L525.35 184.15L525.40 182.26L525.44 180.38L525.49 178.49L525.53 176.60L525.57 174.71L525.60 172.82L525.64 170.94L525.69 169.05L525.73 167.16L525.78 165.27L525.83 163.38L525.87 161.50L525.92 159.61L525.97 157.72L526.02 155.83L526.07 153.94L526.12 152.06L526.18 150.17L526.24 148.28L526.30 146.38L526.36 144.48L526.42 142.58L526.48 140.67L526.55 138.77L526.62 136.87L526.70 134.97L526.78 133.07L526.87 131.17L526.95 129.40L527.03 127.62L527.11 125.85L527.22 124.08L527.34 122.31L527.50 120.55L527.72 118.70L528.00 117.60" stroke="#ee0c0c" stroke-width="1.5" fill="none" stroke-linejoin="round" stroke-linecap="round"/>
<path d="M528.00 117.60L528.32 118.94L528.57 121.18L528.72 123.05L528.85 124.92L528.96 126.80L529.06 128.68L529.14 130.56L529.23 132.44L529.32 134.32L529.42 136.11L529.51 137.90L529.61 139.69L529.70 141.48L529.79 143.27L529.87 145.06L529.95 146.85L530.02 148.64L530.08 150.63L530.15 152.62L530.21 154.61L530.26 156.60L530.32 158.59L530.37 160.58L530.42 162.57L530.47 164.56L530.51 166.55L530.56 168.54L530.60 170.53L530.65 172.52L530.69 174.46L530.72 176.40L530.76 178.34L530.79 180.29L530.82 182.23L530.85 184.17L530.88 186.11L530.91 188.05L530.94 189.99L530.97 191.93L531.00 193.87L531.04 195.81L531.08 197.75L531.12 199.69L531.16 201.63L531.21 203.57L531.27 205.43L531.33 207.28L531.40 209.14L531.48 211.00L531.56 212.86L531.65 214.72L531.75 216.57L531.86 218.43L531.97 220.28L532.10 222.18L532.24 224.07L532.41 225.97L532.60 227.86L532.81 229.75L533.04 231.63L533.24 233.16L533.50 234.70L533.86 236.16" stroke="#2562f8" stroke-width="1.5" fill="none" stroke-linejoin="round" stroke-linecap="round"/>
<path d="M534.30 237.00L534.60 236.55L534.84 235.79L535.18 234.20L535.42 232.57L535.61 230.93L535.82 228.97L536.01 227.00L536.18 225.02L536.34 223.05L536.49 221.07L536.63 219.10L536.77 217.12L536.92 215.15L537.06 213.18L537.21 211.20L537.35 209.23L537.49 207.26L537.62 205.29L537.75 203.31L537.88 201.34L538.00 199.37L538.11 197.46L538.22 195.55L538.33 193.64L538.43 191.74L538.53 189.83L538.61 187.92L538.69 186.01L538.76 184.07L538.82 182.13L538.87 180.19L538.93 178.24L538.98 176.30L539.02 174.36L539.07 172.42L539.12 170.47L539.17 168.53L539.23 166.59L539.29 164.65L539.34 162.70L539.40 160.76L539.46 158.82L539.52 156.88L539.58 154.93L539.64 152.99L539.71 151.05L539.77 149.11L539.84 147.16L539.92 145.21L539.99 143.25L540.07 141.29L540.15 139.34L540.23 137.38L540.32 135.43L540.41 133.47L540.51 131.52L540.61 129.56L540.71 127.74L540.81 125.91L540.92 124.08L541.04 122.26L541.20 120.44L541.38 118.63L541.67 116.74L542.00 115.60" stroke="#ee0c0c" stroke-width="1.5" fill="none" stroke-linejoin="round" stroke-linecap="round"/>
<path d="M542.00 115.60L542.28 116.69L542.50 118.50L542.68 120.32L542.85 122.15L543.00 123.98L543.13 125.81L543.24 127.65L543.35 129.49L543.44 131.33L543.52 133.16L543.60 135.00L543.68 136.96L543.75 138.92L543.82 140.89L543.88 142.85L543.94 144.81L544.00 146.78L544.05 148.74L544.10 150.71L544.15 152.67L544.20 154.63L544.24 156.60L544.28 158.56L544.32 160.53L544.37 162.49L544.41 164.46L544.45 166.42L544.49 168.39L544.52 170.35L544.57 172.32L544.61 174.28L544.65 176.25L544.69 178.21L544.74 180.18L544.79 182.14L544.83 184.11L544.89 186.07L544.94 188.04L545.00 190.00L545.06 191.92L545.12 193.85L545.18 195.77L545.24 197.69L545.31 199.62L545.37 201.54L545.44 203.46L545.51 205.39L545.58 207.31L545.66 209.23L545.74 211.16L545.82 213.08L545.90 215.00L545.98 216.86L546.06 218.72L546.14 220.58L546.24 222.44L546.34 224.29L546.46 226.15L546.60 228.00L546.81 229.94L547.09 231.87L547.40 233.80" stroke="#2562f8" stroke-width="1.5" fill="none" stroke-linejoin="round" stroke-linecap="round"/>
<path d="M547.40 233.70L547.77 234.00L548.13 234.82L548.50 235.95L548.87 237.07L549.23 237.90L549.60 238.20L549.98 238.03L550.37 237.55L550.75 236.90L551.13 236.25L551.52 235.77L551.90 235.60L552.32 236.20L552.73 237.85L553.15 240.10L553.57 242.35L553.98 244.00L554.40 244.60L554.87 243.68L555.33 241.15L555.80 237.70L556.27 234.25L556.73 231.72L557.20 230.80L557.67 231.34L558.13 232.82L558.60 234.85L559.07 236.87L559.53 238.36L560.00 238.90L560.52 237.95L561.03 235.35L561.55 231.80L562.07 228.25L562.58 225.65L563.10 224.70L563.57 225.44L564.03 227.47L564.50 230.25L564.97 233.02L565.43 235.06L565.90 235.80L566.42 234.88L566.93 232.38L567.45 228.95L567.97 225.53L568.48 223.02L569.00 222.10L569.48 222.89L569.97 225.05L570.45 228.00L570.93 230.95L571.42 233.11L571.90 233.90L572.38 233.02L572.87 230.62L573.35 227.35L573.83 224.07L574.32 221.68L574.80 220.80L575.28 221.59L575.77 223.75L576.25 226.70L576.73 229.65L577.22 231.81L577.70 232.60L578.18 231.75L578.67 229.42L579.15 226.25L579.63 223.07L580.12 220.75L580.60 219.90L581.12 220.64L581.63 222.65L582.15 225.40L582.67 228.15L583.18 230.16L583.70 230.90L584.17 230.14L584.63 228.07L585.10 225.25L585.57 222.42L586.03 220.36L586.50 219.60L587.02 220.29L587.53 222.17L588.05 224.75L588.57 227.32L589.08 229.21L589.60 229.90L590.08 229.18L590.57 227.22L591.05 224.55L591.53 221.88L592.02 219.92L592.50 219.20L593.02 219.87L593.53 221.70L594.05 224.20L594.57 226.70L595.08 228.53L595.60 229.20L596.07 228.53L596.53 226.70L597.00 224.20L597.47 221.70L597.93 219.87L598.40 219.20L598.88 219.83L599.37 221.55L599.85 223.90L600.33 226.25L600.82 227.97L601.30 228.60L601.80 227.98L602.30 226.28L602.80 223.95L603.30 221.62L603.80 219.92L604.30 219.30L604.78 219.90L605.27 221.52L605.75 223.75L606.23 225.97L606.72 227.60L607.20 228.20L607.70 227.62L608.20 226.05L608.70 223.90L609.20 221.75L609.70 220.18L610.20 219.60L610.67 220.15L611.13 221.65L611.60 223.70L612.07 225.75L612.53 227.25L613.00 227.80L613.50 227.26L614.00 225.80L614.50 223.80L615.00 221.80L615.50 220.34L616.00 219.80L616.47 220.32L616.93 221.75L617.40 223.70L617.87 225.65L618.33 227.08L618.80 227.60L619.30 227.10L619.80 225.75L620.30 223.90L620.80 222.05L621.30 220.70L621.80 220.20L622.28 220.68L622.77 222.00L623.25 223.80L623.73 225.60L624.22 226.92L624.70 227.40L625.20 226.93L625.70 225.65L626.20 223.90L626.70 222.15L627.20 220.87L627.70 220.40L628.18 220.86L628.67 222.10L629.15 223.80L629.63 225.50L630.12 226.74L630.60 227.20L631.10 226.76L631.60 225.57L632.10 223.95L632.60 222.32L633.10 221.14L633.60 220.70L634.08 221.12L634.57 222.27L635.05 223.85L635.53 225.42L636.02 226.58L636.50 227.00L637.02 226.59L637.53 225.47L638.05 223.95L638.57 222.42L639.08 221.31L639.60 220.90L640.08 221.30L640.57 222.37L641.05 223.85L641.53 225.32L642.02 226.40L642.50 226.80L643.00 226.42L643.50 225.40L644.00 224.00L644.50 222.60L645.00 221.58L645.50 221.20L645.98 221.57L646.47 222.57L646.95 223.95L647.43 225.32L647.92 226.33L648.40 226.70L648.92 226.34L649.43 225.38L649.95 224.05L650.47 222.72L650.98 221.76L651.50 221.40L651.98 221.74L652.47 222.67L652.95 223.95L653.43 225.22L653.92 226.16L654.40 226.50L654.90 226.18L655.40 225.30L655.90 224.10L656.40 222.90L656.90 222.02L657.40 221.70L657.88 222.00L658.37 222.82L658.85 223.95L659.33 225.07L659.82 225.90L660.30 226.20L660.78 225.92L661.27 225.15L661.75 224.10L662.23 223.05L662.72 222.28L663.20 222.00L663.73 222.29L664.27 223.10L664.80 224.20L665.33 225.30L665.87 226.11L666.40 226.40L667.70 223.20L668.80 221.80L670.50 221.30L673.00 221.20L680.40 221.10" stroke="#2562f8" stroke-width="1.5" fill="none" stroke-linejoin="round" stroke-linecap="round"/>
<path d="M548.30 78.15L549.00 76.15L549.40 78.15L550.00 95.15L551.00 125.15L551.22 126.07L551.43 128.57L551.65 132.00L551.87 135.42L552.08 137.93L552.30 138.85L552.82 137.05L553.33 132.15L553.85 125.45L554.37 118.75L554.88 113.85L555.40 112.05L555.72 113.41L556.03 117.12L556.35 122.20L556.67 127.27L556.98 130.99L557.30 132.35L557.88 129.80L558.47 122.83L559.05 113.30L559.63 103.78L560.22 96.80L560.80 94.25L561.22 95.38L561.63 98.47L562.05 102.70L562.47 106.92L562.88 110.02L563.30 111.15L563.82 109.21L564.33 103.90L564.85 96.65L565.37 89.40L565.88 84.09L566.40 82.15L566.85 83.56L567.30 87.40L567.75 92.65L568.20 97.90L568.65 101.74L569.10 103.15L569.58 101.45L570.07 96.80L570.55 90.45L571.03 84.10L571.52 79.45L572.00 77.75L572.50 79.16L573.00 83.03L573.50 88.30L574.00 93.58L574.50 97.44L575.00 98.85L575.48 97.34L575.97 93.23L576.45 87.60L576.93 81.98L577.42 77.86L577.90 76.35L578.38 77.68L578.87 81.30L579.35 86.25L579.83 91.20L580.32 94.82L580.80 96.15L581.30 94.85L581.80 91.30L582.30 86.45L582.80 81.60L583.30 78.05L583.80 76.75L584.27 77.95L584.73 81.22L585.20 85.70L585.67 90.17L586.13 93.45L586.60 94.65L587.12 93.50L587.63 90.38L588.15 86.10L588.67 81.83L589.18 78.70L589.70 77.55L590.17 78.63L590.63 81.58L591.10 85.60L591.57 89.62L592.03 92.57L592.50 93.65L593.00 92.62L593.50 89.80L594.00 85.95L594.50 82.10L595.00 79.28L595.50 78.25L596.00 79.23L596.50 81.90L597.00 85.55L597.50 89.20L598.00 91.87L598.50 92.85L598.98 91.92L599.47 89.38L599.95 85.90L600.43 82.43L600.92 79.88L601.40 78.95L601.90 79.85L602.40 82.30L602.90 85.65L603.40 89.00L603.90 91.45L604.40 92.35L604.87 91.50L605.33 89.18L605.80 86.00L606.27 82.83L606.73 80.50L607.20 79.65L607.70 80.50L608.20 82.83L608.70 86.00L609.20 89.18L609.70 91.50L610.20 92.35L610.68 91.57L611.17 89.45L611.65 86.55L612.13 83.65L612.62 81.53L613.10 80.75L613.62 81.54L614.13 83.70L614.65 86.65L615.17 89.60L615.68 91.76L616.20 92.55L616.67 91.85L617.13 89.95L617.60 87.35L618.07 84.75L618.53 82.85L619.00 82.15L619.50 82.87L620.00 84.83L620.50 87.50L621.00 90.18L621.50 92.13L622.00 92.85L622.48 92.21L622.97 90.45L623.45 88.05L623.93 85.65L624.42 83.89L624.90 83.25L625.40 83.91L625.90 85.72L626.40 88.20L626.90 90.67L627.40 92.49L627.90 93.15L628.40 92.55L628.90 90.93L629.40 88.70L629.90 86.48L630.40 84.85L630.90 84.25L631.38 84.86L631.87 86.53L632.35 88.80L632.83 91.08L633.32 92.74L633.80 93.35L634.30 92.80L634.80 91.30L635.30 89.25L635.80 87.20L636.30 85.70L636.80 85.15L637.27 85.72L637.73 87.28L638.20 89.40L638.67 91.53L639.13 93.08L639.60 93.65L640.10 93.13L640.60 91.70L641.10 89.75L641.60 87.80L642.10 86.37L642.60 85.85L643.10 86.39L643.60 87.85L644.10 89.85L644.60 91.85L645.10 93.31L645.60 93.85L646.08 93.36L646.57 92.03L647.05 90.20L647.53 88.38L648.02 87.04L648.50 86.55L649.00 87.05L649.50 88.43L650.00 90.30L650.50 92.18L651.00 93.55L651.50 94.05L651.98 93.59L652.47 92.33L652.95 90.60L653.43 88.88L653.92 87.61L654.40 87.15L654.92 87.63L655.43 88.92L655.95 90.70L656.47 92.47L656.98 93.77L657.50 94.25L657.97 93.81L658.43 92.60L658.90 90.95L659.37 89.30L659.83 88.09L660.30 87.65L660.80 88.12L661.30 89.40L661.80 91.15L662.30 92.90L662.80 94.18L663.30 94.65L663.78 94.27L664.27 93.23L664.75 91.80L665.23 90.38L665.72 89.33L666.20 88.95L666.47 89.12L666.73 89.58L667.00 90.20L667.27 90.83L667.53 91.28L667.80 91.45L668.40 88.65L669.30 85.65L670.30 83.35L672.50 81.65L675.00 80.35L678.00 79.45L680.60 78.95" stroke="#1cf81c" stroke-width="1.9" fill="none" stroke-linejoin="round" stroke-linecap="round"/>
<path d="M59.30 231.90L59.54 233.49L59.90 235.00L60.21 235.63L60.60 236.00" stroke="#000" stroke-width="1.5" fill="none" stroke-linejoin="round" stroke-linecap="round"/>
<path d="M71.60 230.40L71.91 231.99L72.40 233.40L72.72 233.79L73.10 234.00" stroke="#000" stroke-width="1.5" fill="none" stroke-linejoin="round" stroke-linecap="round"/>
<path d="M85.00 230.80L85.34 231.93L85.80 232.60" stroke="#000" stroke-width="1.5" fill="none" stroke-linejoin="round" stroke-linecap="round"/>
<path d="M97.40 221.50L97.54 223.01L97.71 224.52L97.93 226.02L98.20 227.50L98.51 228.82L98.90 229.60" stroke="#000" stroke-width="1.5" fill="none" stroke-linejoin="round" stroke-linecap="round"/>
<path d="M110.90 221.50L111.13 223.21L111.46 224.90L111.80 226.60" stroke="#000" stroke-width="1.5" fill="none" stroke-linejoin="round" stroke-linecap="round"/>
<path d="M122.80 219.50L122.90 221.46L123.04 223.41L123.20 224.30" stroke="#000" stroke-width="1.5" fill="none" stroke-linejoin="round" stroke-linecap="round"/>
<path d="M149.15 160.40L149.20 161.60" stroke="#000" stroke-width="1.3" fill="none" stroke-linejoin="round" stroke-linecap="round"/>
<path d="M161.15 155.30L161.20 156.50" stroke="#000" stroke-width="1.3" fill="none" stroke-linejoin="round" stroke-linecap="round"/>
<path d="M173.15 152.70L173.20 153.90" stroke="#000" stroke-width="1.3" fill="none" stroke-linejoin="round" stroke-linecap="round"/>
<path d="M185.14 154.10L185.20 155.30" stroke="#000" stroke-width="1.3" fill="none" stroke-linejoin="round" stroke-linecap="round"/>
<path d="M197.04 165.50L197.10 166.70" stroke="#000" stroke-width="1.3" fill="none" stroke-linejoin="round" stroke-linecap="round"/>
<path d="M209.53 181.20L209.60 182.40" stroke="#000" stroke-width="1.3" fill="none" stroke-linejoin="round" stroke-linecap="round"/>
<path d="M221.85 184.30L221.90 185.50" stroke="#000" stroke-width="1.3" fill="none" stroke-linejoin="round" stroke-linecap="round"/>
<path d="M234.84 174.50L234.90 175.70" stroke="#000" stroke-width="1.3" fill="none" stroke-linejoin="round" stroke-linecap="round"/>
<path d="M247.44 161.30L247.50 162.50" stroke="#000" stroke-width="1.3" fill="none" stroke-linejoin="round" stroke-linecap="round"/>
<path d="M259.44 159.20L259.50 160.40" stroke="#000" stroke-width="1.3" fill="none" stroke-linejoin="round" stroke-linecap="round"/>
<path d="M283.84 164.60L283.90 165.80" stroke="#000" stroke-width="1.3" fill="none" stroke-linejoin="round" stroke-linecap="round"/>
<path d="M296.33 166.20L296.40 167.40" stroke="#000" stroke-width="1.3" fill="none" stroke-linejoin="round" stroke-linecap="round"/>
<path d="M308.93 168.10L309.00 169.30" stroke="#000" stroke-width="1.3" fill="none" stroke-linejoin="round" stroke-linecap="round"/>
<path d="M321.61 169.80L321.70 171.00" stroke="#000" stroke-width="1.3" fill="none" stroke-linejoin="round" stroke-linecap="round"/>
<path d="M135.20 180.20L136.20 176.50L138.00 172.00" stroke="#000" stroke-width="1.5" fill="none" stroke-linejoin="round" stroke-linecap="round"/>
<path d="M271.60 152.60L271.90 155.60" stroke="#000" stroke-width="1.5" fill="none" stroke-linejoin="round" stroke-linecap="round"/>
<path d="M409.65 175.80L409.80 177.00L411.70 172.70" stroke="#000" stroke-width="1.5" fill="none" stroke-linejoin="round" stroke-linecap="round"/>
<path d="M423.45 175.30L423.60 176.50L425.00 172.70" stroke="#000" stroke-width="1.5" fill="none" stroke-linejoin="round" stroke-linecap="round"/>
<path d="M437.25 174.50L437.40 175.70L439.00 172.20" stroke="#000" stroke-width="1.5" fill="none" stroke-linejoin="round" stroke-linecap="round"/>
<path d="M452.42 194.30L452.50 195.60" stroke="#000" stroke-width="1.4" fill="none" stroke-linejoin="round" stroke-linecap="round"/>
<path d="M464.40 193.10L464.52 194.97L464.67 196.83L464.82 198.70" stroke="#000" stroke-width="1.5" fill="none" stroke-linejoin="round" stroke-linecap="round"/>
<path d="M478.29 210.00L478.40 211.25L478.51 212.50" stroke="#000" stroke-width="1.5" fill="none" stroke-linejoin="round" stroke-linecap="round"/>
<path d="M492.30 222.40L492.48 222.97L492.70 223.30" stroke="#000" stroke-width="1.5" fill="none" stroke-linejoin="round" stroke-linecap="round"/>
<path d="M505.86 222.00L506.00 223.50L506.14 225.00" stroke="#000" stroke-width="1.5" fill="none" stroke-linejoin="round" stroke-linecap="round"/>
<path d="M520.50 231.50L520.71 232.66L520.98 233.80" stroke="#000" stroke-width="1.5" fill="none" stroke-linejoin="round" stroke-linecap="round"/>
<path d="M533.86 236.16L534.06 236.69L534.30 237.00" stroke="#000" stroke-width="1.5" fill="none" stroke-linejoin="round" stroke-linecap="round"/>
<path d="M397.15 175.70L397.65 174.50" stroke="#000" stroke-width="1.5" fill="none" stroke-linejoin="round" stroke-linecap="round"/>
<path d="M183.2 15.5H207" stroke="#000" stroke-width="1.3"/>
<path d="M299.5 15.5H322.6" stroke="#f00" stroke-width="1.3"/>
<path d="M417.8 15.5H440.4" stroke="#1878d2" stroke-width="1.3"/>
<circle cx="346.40" cy="146.85" r="1.45" fill="#000"/>
<circle cx="351.70" cy="146.85" r="1.45" fill="#000"/>
<circle cx="357.00" cy="146.85" r="1.45" fill="#000"/>
<circle cx="362.30" cy="146.85" r="1.45" fill="#000"/>
<circle cx="367.60" cy="146.85" r="1.45" fill="#000"/>
<circle cx="372.90" cy="146.85" r="1.45" fill="#000"/>
<g stroke="#000" stroke-width="0.75" fill="none" stroke-linecap="round" stroke-linejoin="round">
<path d="M360.4 183.8V156.5" stroke-width="1.05"/>
<path d="M55.3 266.8L47.4 236.5" stroke-width="1.0"/>
<path d="M506.9 251.5L519.8 238.3" stroke-width="1.05"/>
</g>
<path d="M47.0 234.4L46.6 240.0L49.9 239.2Z" fill="#000"/>
<path d="M360.4 154.4L357.9 159.9L360.4 158.6L362.9 159.9Z" fill="#000"/>
<path d="M521.3 236.7L516.2 238.3L518.6 239.4L519.8 241.6Z" fill="#000"/>
<g font-family="'Liberation Sans', sans-serif">
<text x="211.0" y="19.1" font-size="10.3" text-anchor="start" fill="#000" stroke="#000" stroke-width="0.22" >shutters closed</text>
<text x="326.4" y="19.1" font-size="10.3" text-anchor="start" fill="#f00" stroke="#f00" stroke-width="0.22" >Sr shutter open</text>
<text x="446.2" y="19.1" font-size="10.3" text-anchor="start" fill="#1878d2" stroke="#1878d2" stroke-width="0.22" >Ti shutter open</text>
<text x="124.8" y="238.3" font-size="10.35" text-anchor="middle" fill="#000" stroke="#000" stroke-width="0.22" >Sr &gt; Ti</text>
<text x="123.2" y="250.8" font-size="10.35" text-anchor="middle" fill="#000" stroke="#000" stroke-width="0.22" >excess Sr to</text>
<text x="125.0" y="263.3" font-size="10.35" text-anchor="middle" fill="#000" stroke="#000" stroke-width="0.22" >develop double-peak</text>
<text x="48.3" y="276.8" font-size="10.35" text-anchor="start" fill="#000" stroke="#000" stroke-width="0.22" >start TiO<tspan font-size="7" dy="2">2</tspan><tspan dy="-2"> termination</tspan></text>
<text x="203.5" y="198.8" font-size="10.35" text-anchor="middle" fill="#000" stroke="#000" stroke-width="0.22" >Sr &lt; Ti</text>
<text x="247.3" y="198.8" font-size="10.35" text-anchor="middle" fill="#000" stroke="#000" stroke-width="0.22" >Sr &gt; Ti</text>
<text x="230.6" y="236.8" font-size="10.35" text-anchor="middle" fill="#000" stroke="#000" stroke-width="0.22" >adjust Sr</text>
<text x="230.2" y="249.3" font-size="10.35" text-anchor="middle" fill="#000" stroke="#000" stroke-width="0.22" >shutter time</text>
<text x="229.8" y="261.8" font-size="10.35" text-anchor="middle" fill="#000" stroke="#000" stroke-width="0.22" >to stabilize</text>
<text x="230.4" y="274.3" font-size="10.35" text-anchor="middle" fill="#000" stroke="#000" stroke-width="0.22" >double-peak</text>
<text x="303.0" y="187.0" font-size="10.35" text-anchor="middle" fill="#000" stroke="#000" stroke-width="0.22" >Sr:Ti = 1</text>
<text x="303.4" y="199.5" font-size="10.35" text-anchor="middle" fill="#000" stroke="#000" stroke-width="0.22" >to maintain</text>
<text x="301.8" y="212.0" font-size="10.35" text-anchor="middle" fill="#000" stroke="#000" stroke-width="0.22" >stable</text>
<text x="303.6" y="224.2" font-size="10.35" text-anchor="middle" fill="#000" stroke="#000" stroke-width="0.22" >double-peak</text>
<text x="303.1" y="249.3" font-size="10.35" text-anchor="middle" fill="#000" stroke="#000" stroke-width="0.22" >shutters:</text>
<text x="303.6" y="261.8" font-size="10.35" text-anchor="middle" fill="#000" stroke="#000" stroke-width="0.22" >Sr = 60.8s</text>
<text x="303.5" y="274.3" font-size="10.35" text-anchor="middle" fill="#000" stroke="#000" stroke-width="0.22" >Ti = 57s</text>
<text x="382.9" y="199.3" font-size="10.35" text-anchor="middle" fill="#000" stroke="#000" stroke-width="0.22" >adjust Sr cell</text>
<text x="382.9" y="211.8" font-size="10.35" text-anchor="middle" fill="#000" stroke="#000" stroke-width="0.22" >temperature to</text>
<text x="382.9" y="224.1" font-size="10.35" text-anchor="middle" fill="#000" stroke="#000" stroke-width="0.22" >flux-match</text>
<text x="382.9" y="248.8" font-size="10.35" text-anchor="middle" fill="#000" stroke="#000" stroke-width="0.22" >shutters:</text>
<text x="418.8" y="261.3" font-size="10.35" text-anchor="end" fill="#000" stroke="#000" stroke-width="0.22" >Sr = Ti = 57s</text>
<path d="M347.3 258.45H356.5M353.6 256.1L356.9 258.45L353.6 260.8" stroke="#000" stroke-width="0.9" fill="none" stroke-linecap="round" stroke-linejoin="round"/>
<text x="481.2" y="248.8" font-size="10.35" text-anchor="middle" fill="#000" stroke="#000" stroke-width="0.22" >Sr &lt; Ti</text>
<text x="452.6" y="261.3" font-size="10.35" text-anchor="start" fill="#000" stroke="#000" stroke-width="0.22" >recover TiO<tspan font-size="7" dy="2">2</tspan></text>
<text x="480.9" y="273.6" font-size="10.35" text-anchor="middle" fill="#000" stroke="#000" stroke-width="0.22" >termination</text>
<text x="608.3" y="112.3" font-size="10.35" text-anchor="middle" fill="#000" stroke="#000" stroke-width="0.22" >specular</text>
<text x="608.1" y="209.6" font-size="10.35" text-anchor="middle" fill="#000" stroke="#000" stroke-width="0.22" >diffracted</text>
<text x="603.4" y="260.6" font-size="10.35" text-anchor="middle" fill="#000" stroke="#000" stroke-width="0.22" >codeposition</text>
<text x="603.8" y="272.7" font-size="10.35" text-anchor="middle" fill="#000" stroke="#000" stroke-width="0.22" >period = 55.6s</text>
<text x="46.5" y="293.85" font-size="11.5" text-anchor="middle" fill="#000" stroke="#000" stroke-width="0.22" >0</text>
<text x="145.6" y="293.85" font-size="11.5" text-anchor="middle" fill="#000" stroke="#000" stroke-width="0.22" >1000</text>
<text x="245.2" y="293.85" font-size="11.5" text-anchor="middle" fill="#000" stroke="#000" stroke-width="0.22" >2000</text>
<text x="344.7" y="293.85" font-size="11.5" text-anchor="middle" fill="#000" stroke="#000" stroke-width="0.22" >3000</text>
<text x="385.4" y="293.85" font-size="11.5" text-anchor="middle" fill="#000" stroke="#000" stroke-width="0.22" >4000</text>
<text x="493.0" y="293.85" font-size="11.5" text-anchor="middle" fill="#000" stroke="#000" stroke-width="0.22" >5000</text>
<text x="599.4" y="293.85" font-size="11.5" text-anchor="middle" fill="#000" stroke="#000" stroke-width="0.22" >6000</text>
<text x="44.3" y="283.5" font-size="11.5" text-anchor="end" fill="#000" stroke="#000" stroke-width="0.22" >0</text>
<text x="15.4" y="55.6" font-size="11.5" text-anchor="start" fill="#000" stroke="#000" stroke-width="0.22" >2x10<tspan font-size="8.6" dy="-4.7">5</tspan></text>
<text x="15.4" y="169.6" font-size="11.5" text-anchor="start" fill="#000" stroke="#000" stroke-width="0.22" >1x10<tspan font-size="8.6" dy="-4.7">5</tspan></text>
<text x="363.2" y="312.6" font-size="16.3" text-anchor="middle" fill="#000" stroke="#000" stroke-width="0.22" >Time (s)</text>
<text transform="translate(12,241.4) rotate(-90)" font-size="16.5" fill="#000">Diffracted intensity (arb. units)</text>
<text x="80.0" y="359.3" font-size="15.55" text-anchor="start" fill="#f00" stroke="#f00" stroke-width="0.22" >(a) relative Sr:Ti flux calibration</text>
<text x="322.2" y="360.0" font-size="15.55" text-anchor="start" fill="#f00" stroke="#f00" stroke-width="0.22" >(b) &#8220;flux matching&#8221;</text>
<text x="613.4" y="351.3" font-size="15.55" text-anchor="middle" fill="#f00" stroke="#f00" stroke-width="0.22" >(c) absolute flux</text>
<text x="615.3" y="368.8" font-size="15.55" text-anchor="middle" fill="#f00" stroke="#f00" stroke-width="0.22" >calibration</text>
</g>
<g stroke="#f00" stroke-width="1.8" fill="none" stroke-linejoin="round" stroke-linecap="butt">
<path d="M48.9 317.8V323Q48.9 324.4 50.3 324.4H319.8Q321.2 324.4 321.2 323V317.8M184.8 324.4V330.8"/>
<path d="M343.2 317.8V323Q343.2 324.4 344.59999999999997 324.4H428.0Q429.4 324.4 429.4 323V317.8M386.2 324.4V330.8"/>
<path d="M559.2 317.8V323Q559.2 324.4 560.6 324.4H667.6Q669.0 324.4 669.0 323V317.8M613.5 324.4V330.8"/>
</g>
</svg>
</body></html>
